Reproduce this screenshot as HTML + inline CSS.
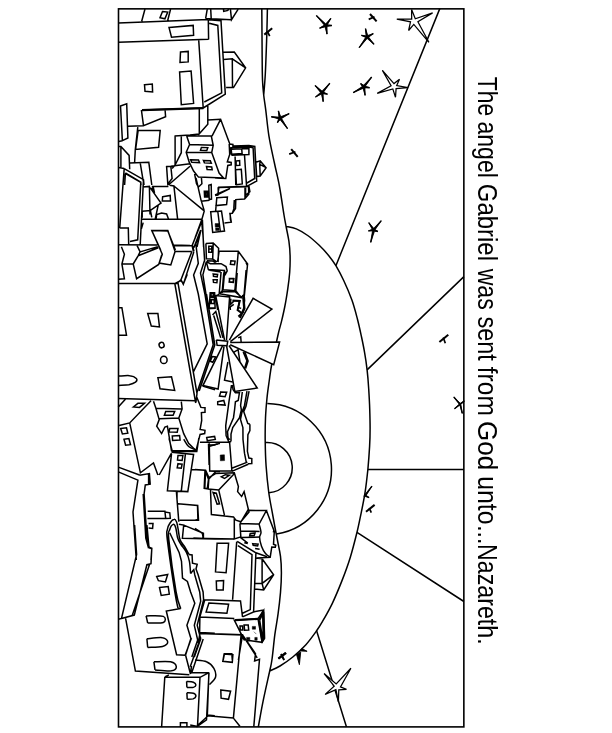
<!DOCTYPE html>
<html>
<head>
<meta charset="utf-8">
<title>The angel Gabriel was sent from God unto...Nazareth.</title>
<style>
html,body{margin:0;padding:0;background:#fff;}
body{width:612px;height:733px;overflow:hidden;position:relative;font-family:"Liberation Sans",sans-serif;}
svg{position:absolute;left:0;top:0;display:block}
.art path,.art rect,.art circle,.art ellipse{fill:none;stroke:#000;stroke-width:1.5;stroke-linejoin:miter;stroke-linecap:butt}
.art .fl{fill:#000;stroke:#000;stroke-width:.5}
.cap text{font-family:"Liberation Sans",sans-serif;font-size:28px;fill:#000}
</style>
</head>
<body>
<svg width="612" height="733" viewBox="0 0 612 733">
<rect x="0" y="0" width="612" height="733" fill="#fff"/>
<g class="art">
<rect x="118.5" y="8.85" width="345.35" height="718.05" style="stroke-width:1.6"/>
<path d="M261.8 8.5C261.9 15.2 262 37.1 262.1 49C262.2 60.9 262.2 72.3 262.5 80C262.8 87.7 263.2 90.1 263.7 95C264.2 99.9 264.8 102.8 265.7 109.6C266.6 116.4 267.5 127.1 268.9 135.8C270.3 144.5 272.4 153.6 274.2 162C275.9 170.4 277.8 177.2 279.4 186C281 194.8 282.9 208.2 284 215C285.1 221.8 285.3 222.1 286.1 226.5C286.9 230.9 288.2 236.3 288.9 241.2C289.6 246.1 290 250.7 290.1 255.9C290.2 261.1 290.1 266.9 289.7 272.3C289.3 277.8 288.6 283.2 287.8 288.6C287 294.1 286.2 299.5 285.1 305C284.1 310.5 282.7 316.4 281.5 321.4C280.3 326.4 279.6 327.8 278 335C276.4 342.2 273.2 356.8 271.7 364.5C270.2 372.2 270 375.4 269.2 381C268.4 386.6 267.6 391.8 267 398C266.4 404.2 265.8 410.8 265.5 418C265.2 425.2 265.1 433 265.2 441C265.3 449 265.5 457.5 266.1 466C266.7 474.5 267.6 483.6 268.7 492C269.8 500.4 271.6 508.5 273 516.5C274.4 524.5 276.1 533.4 277.4 540C278.6 546.6 279.8 550.9 280.5 556.4C281.2 561.9 281.4 566.7 281.4 572.7C281.4 578.7 281.1 585.6 280.5 592.4C279.9 599.2 279.1 606.5 278.1 613.6C277.2 620.7 275.8 627.2 274.8 634.9C273.8 642.6 272.8 654 271.9 660C271 666 271.2 664.1 269.7 671C268.2 677.9 264.9 692.3 263 701.6C261.1 710.9 259.1 722.8 258.3 727
M267.4 8.5C267.3 13.9 267 30.1 266.6 41C266.2 51.9 265.8 65 265.3 74C264.8 83 264 91.5 263.7 95
M286.1 226.5C287.8 226.9 292.7 227.4 296.3 228.9C299.9 230.4 303.9 232.8 307.7 235.5C311.5 238.2 315.6 241.9 319.2 245.3C322.8 248.7 326.2 252.5 329 255.9C331.8 259.3 333.4 261.6 335.9 265.7C338.3 269.8 341 274.8 343.7 280.5C346.4 286.2 349.6 293.7 351.9 300.1C354.2 306.5 355.8 312.9 357.4 319C359 325.1 360.2 330.8 361.4 336.4C362.6 342 363.7 347.1 364.6 352.7C365.6 358.3 366.4 363.9 367.1 369.9C367.8 375.9 368.3 382.3 368.7 388.7C369.1 395.1 369.5 401.8 369.7 408.4C369.9 414.9 370.1 421.7 370.1 428C370.1 434.3 370 439.5 369.6 446.4C369.2 453.3 368.6 461.7 367.9 469.3C367.1 476.9 366.2 485.1 365.1 492.2C364 499.3 362.8 505.1 361.4 511.8C360 518.5 358.9 524.6 357 532.3C355.1 540 352.6 549.9 350.1 558C347.6 566.1 344.9 573.3 341.9 580.9C338.9 588.5 335.4 597 332.1 603.8C328.8 610.6 324.9 617.3 322.3 621.8C319.7 626.3 319.3 627 316.6 630.8C313.9 634.6 309.9 640.3 305.9 644.7C301.9 649.1 297.1 653.5 292.8 657C288.5 660.5 283.9 663.7 280 666C276.1 668.3 271.4 670.2 269.7 671
M118.3 376.1C120.2 376.1 126.7 375.3 129.7 375.7C132.7 376 135.3 377.3 136.3 378.4C137.2 379.5 136.7 381.2 135.5 382.2C134.2 383.2 131.8 384.1 128.9 384.7C126 385.2 120 385.3 118.3 385.5
M183.7 439.2C184.6 440.4 186.5 444.7 188.6 446.5C190.8 448.4 195.5 449.5 196.8 450.1
M178.1 608.6C177.6 605.8 176.6 603.5 174.8 592C173 580.5 168.6 550 167.3 539.6C166.1 529.2 166.9 532.5 167.3 529.8C167.7 527.1 168.5 525.2 169.7 523.5C170.8 521.8 173 519.5 174.2 519.3C175.3 519 175.9 520.4 176.6 522C177.2 523.6 177.5 525.9 178.1 528.8C178.7 531.7 178.9 536.6 180 539.6C181.1 542.6 183 544 184.5 546.5C186 549 188.2 553.1 188.9 554.4
M180.7 608.6C179.9 605.8 178.1 603.5 176.1 592C174.1 580.5 169.9 550 168.8 539.6C167.7 529.2 169 532.3 169.7 529.8C170.4 527.3 172.2 524.7 173.2 524.4C174.2 524.1 175.1 525.7 175.8 527.9C176.5 530.1 176.8 535 177.6 537.7C178.4 540.4 179.2 541.5 180.7 544C182.2 546.5 184.9 549.5 186.4 552.4C187.9 555.3 188.7 557.8 189.4 561.3C190.1 564.8 190.4 571.5 190.6 573.5
M146.1 615.9C149 616 160.4 615.3 163.3 616.4C166.1 617.5 165.9 621.4 163.3 622.5C160.7 623.6 150.3 622.9 147.7 623
M146.9 638.8C149.5 638.6 159 637.1 162.5 637.7C165.9 638.2 167.7 640.6 167.7 642.1C167.7 643.6 165.8 645.6 162.5 646.5C159.1 647.4 150.2 647.3 147.7 647.5
M153.9 661.8C156.7 661.8 166.8 660.9 170.6 661.8C174.3 662.6 176.1 665.2 176.3 666.7C176.4 668.2 174.9 670.2 171.4 670.8C167.8 671.3 157.8 670.1 155 669.9
M186.6 681.4C187.7 681.5 191.9 681.6 193.4 682.2C195 682.8 195.9 684.3 195.9 685.1C195.9 686 194.9 687 193.4 687.4C191.9 687.8 188 687.4 186.9 687.4
M186.9 692.8C188 692.9 191.9 692.8 193.4 693.3C194.9 693.8 195.9 695.2 195.9 696.1C195.8 697 194.5 698.3 193.1 698.9C191.7 699.4 188.2 699.3 187.2 699.3
M195.1 660.1C197 660.4 203.4 660.4 206.5 661.8C209.6 663.1 212.4 665.7 213.9 668.3C215.4 670.9 216.2 674.6 215.5 677.3C214.8 680 210.5 683.4 209.4 684.6
M209.3 445.1C210.1 445 212.4 445.2 214.2 444.9C216 444.6 219 443.5 220 443.3
M259.1 524.1C259.4 525.5 260.9 530.2 261 532.4C261.1 534.6 259.5 535 259.6 537.3C259.6 539.6 260.5 543.5 261.5 546.2C262.5 548.9 264 551.7 265.5 553.5C266.9 555.4 269.4 556.6 270.2 557.2"/>
<path d="M439.8 8.6L335.9 265.7
M367.1 369.9L463.9 276.6
M367.9 469.6L463.9 469.6
M357 532.3L463.9 601.5
M316.6 630.8L346.5 727
M118.3 22.9L208.3 19.6
M118.3 42.2L208.6 39.3
M145 9L141.7 21.3
M170.6 9L167.7 20.5
M162.5 11.5L167.7 12.1L164.9 18.8L160 17.7Z
M169 27.5L193.2 25.4L193.6 35.2L171.5 37.3Z
M180.5 52L188.2 51.4L188.2 61.9L180 62.4Z
M179.6 72L191.1 71L193.6 103.4L181.3 104.7Z
M144.5 84.8L152.3 84.1L152.6 92L145 91.2Z
M142 110L203.4 108
M208.3 19.7L208.6 39.5
M207.3 8.9L205.6 18.7
M210.7 8.9L211.2 18.8
M205.6 18.6L211.2 18.8L231.3 19.7
M230.4 8.9L231.5 19.7L238.2 9.2
M223.5 8.9L223.7 11.4L227.9 10.4L228.4 8.9
M208.8 19.7L221 20.7L225.3 94.1L203.2 108
M209.2 23.2L217.8 25.4L221.7 92.8L204.3 102
M198.7 39.9L203.2 108
M223 52.2L234.3 52L245.6 67.9L233.5 87.6L226.1 87.6
M223.4 59.5L232.3 58.8L232.5 87.6
M232.3 58.8L245.6 67.9
M120.5 106L126.7 103.8L127.9 138L122.4 140.7Z
M118.7 141.4L122.4 140.7
M141.4 110L143.5 125.7L165.6 116.8L165.1 110.3
M127.9 126.3L143.5 125.7
M138.1 130.6L160.2 130.6L158.6 147.2L135.6 149.4Z
M137.8 127.2L135.3 149.6L134.6 162.8
M118.7 146.6L120.9 146.6L129.1 155.4L129.7 169.3
M120.9 146.6L120.9 167.7
M118.7 167.4L124.2 168.6
M129.7 163.1L148.8 162.3L151.8 185
M140.2 162.8L143.2 180.9
M124.2 168.6L143.5 179.7L144 185
M125.1 173.3L140.8 182.4L141 185
M124.2 168.6L123 185
M125.4 173.6L124.6 185
M174.5 136.1L190 134.9
M175.1 136.1L175.1 165
M181.3 135.8L181.3 152.7L175.1 165
M170.8 166.2L190 163.7
M166.6 166.6L170.8 166.2L172.1 178.5L167.8 184Z
M172.1 168.6L175.1 165
M168.4 185L190 166.2
M199.3 108.1L199.3 133.7L207.8 124.3L207.8 105.2
M190 134.9L199.3 133.9
M207.8 119.9L220.6 119.3L230 144.5
M220.6 119.3L212 136.1
M186.7 136.1L211.3 136.1L213.2 145.3L211.7 152.5L216.2 165.1L219.1 173L223.5 177.9L198.5 177.1L193.6 171L189.2 162.2L186.2 152.3L189.6 144.5L186.7 136.1
M189.6 144.5L213.2 145.3
M186.2 152.3L211.7 152.5
M201.4 147.4L207.8 147.6L206.8 150.6L200.5 150.4Z
M190.6 159.7L198.5 160L199.5 162.6L191.8 162.2Z
M203.4 160.4L210.3 160.7L211.3 163.3L204.4 162.9Z
M206.5 166.6L211.7 166.9L212.2 169.8L207.1 169.5Z
M194.6 173.9L196.5 183.8L198.5 187
M201.4 177.5L201.9 183.8L198.5 187
M229.2 143.9L229.7 154.5L227.3 161.8L231.2 162.5L231.2 164.8L227.8 165.5L225.8 178.5L215 178
M229.2 143.9L232.9 144.4L232.9 146.1L248.9 145.6L254.8 146.4L256.7 181L246.9 186.4
M229.7 148.1L232.9 147.4L249.4 147.1L253.1 147.8L254.7 178.5L246.9 183
M231.2 149.3L241.7 148.8L242.1 153.5L231.7 154.3Z
M241.7 148.8L248.9 148.4L248.9 154.5L231.7 155.3
M229.7 148.1L231.7 155.3
M235.1 156.4L235.8 185.1
M244.5 155L246.6 186.7
M236.1 160.9L239.6 160.6L239.8 165.3L236.1 165.5Z
M235.6 169.7L241.3 169.2L242.3 183.9L236.4 184.7Z
M218.9 187.4L246.6 186.7
M255.8 162.3L260.2 160.9L266.1 167.7L260.2 176.1L256.7 176.6Z
M260.2 160.9L259.7 164.3L266.1 167.7
M259.7 164.3L260.2 176.1
M218.9 187.4L217.9 193.8L228.8 188.9
M217.9 193.8L215 194.9
M245 186.9L245 195.7L249.9 191.8L248.9 186.1
M124.2 168.6L119.7 228.1
M125.4 172.9L140.8 182.1L137.7 239.8L130 241.6
M143.5 179.6L140.2 244.9
M119.7 228.1L128.3 228.1L128.7 244.7
M118.7 244.7L157.3 244.9
M142.6 187L149.4 186.4L150 214.6
M142.2 211.3L150.4 210.6L151.8 217.4
M142.2 217.7L142.2 211.3
M150.1 187.6L161 203L150.4 210.3
M151.8 187.6L154.5 192.9L153.1 186.4
M158.2 205.2L155.3 218.7
M151.8 186.4L168.4 186.4
M169.6 185.2L173.9 186L177.6 218.9
M162.6 196.8L170.2 195.4L170.5 201.1L162.3 201.1Z
M156.1 218.7L156.7 214.6L161.6 213L166.6 214L168.4 218.7
M142.2 218.9L201.9 219.2
M173.9 186L204.2 210.9
M151.8 230.6L167.8 230.9L175.4 250
M151.8 230.6L160.7 250
M157.3 246.9L151.8 250
M143.2 222.6L141.4 228.7
M196 177.9L200.9 199.6L204.3 210.9
M208.8 185.3L211.2 184.6L211.5 199.1L209.2 199.6Z
M204.3 191.2L208.3 191.2L208.6 197.1L204.6 197.1Z
M205.6 192.4L207.2 192.4L207.3 195.9L205.7 195.9Z
M201.1 201.3L209.7 200.3
M218.1 187.3L248.5 186.3L248.8 194.2L244.6 199.1L235.8 199.6L235.5 208.4L232.3 213.3L229.9 213.5L231.3 222.2L224.5 222.9
M218.1 187.3L218.4 194.2L229.4 188.8L229.4 187
M215.1 195.6L218.6 195.1
M216.8 197.8L227.4 197.1L226.6 204.5L216.1 205.6Z
M216.1 205.6L215.6 211.3
M245.6 186.6L245.6 195.6L244.6 199.1
M234.3 200L233.8 208.9L232.3 213.3
M230.2 213.8L230.4 219.7L231.3 222.2
M210.7 211.8L221.5 211.1L224.5 231L212.7 232.5Z
M217.8 211.5L220.3 231.5
M204.3 210.9L201.9 219.2
M201.9 219.2L195 237.9
M202.4 219.7L203.6 247
M200.9 230L197 247
M121.4 246.8L124.4 254.2L121.9 264L124.4 278.7L118.5 279.2
M121.9 264L133.2 264
M137.1 245.6L140.1 251.9L157.8 246.6
M140.1 251.9L138.1 255.8L133.2 264L136.6 278.7L158.7 264.5L161.7 255.1
M138.1 255.8L158.3 247.8
M151.8 230.5L167.8 230.5L175.1 251.4L170.8 264.9L159.2 263.1L162.3 254.2Z
M172.7 245L190 245.6
M175.4 251.4L190 251.4
M201.5 222L192.1 245.6L193.4 251.5
M200.6 230.2L193.8 247.7
M192.6 245.6L194 251.5
M193.8 252L183.3 284.4L181 279.8L191.9 251.5
M119 283.6L176.9 283.4L181 279.8
M200.6 230.2L195.8 243.9L198.3 263.3L193.6 275L198.3 294
M201.7 222L203 235.1L204.6 260.3L200.5 273.1L204.9 294
M174 245.6L192.1 245.8
M174.9 251.5L191.9 251.5
M206.3 261.6L202.9 274.8L208.3 308.7L215.7 308.2
M205.9 243.4L213.2 242.9L218.6 248.3L218.1 262.1
M205.9 243.4L206.4 258.8L212.7 259.1L216.9 261.8
M213.2 242.9L212.7 259.1
M206.8 260.8L212.7 261.1L215.7 262.6
M208.8 246.3L211.8 246.3L211.8 252.2L208.8 252.2Z
M209 249L211.8 249
M206.3 261.6L208.3 269.4L224.5 270.4L223.7 273.9
M206.3 261.6L210.3 263.7L221.1 263.7L226 266.5L227.2 270.9L225.5 274.1L224.3 270.4
M208.3 269.9L220.8 271.9
M221.1 271.9L219.1 294.5
M223.7 273.9L222.1 293
M213.2 273.9L217.6 274.3L217.2 276.8L213.5 276.3Z
M213.2 279.7L217.2 279.7L216.9 282.7L213.5 282.4Z
M217.6 261.6L219.1 251.3L238.3 251.3L247.6 264L244.2 296.9
M238.3 251.3L234.8 291.5L241.2 296.9
M222.1 291.8L234.8 291.5
M230.9 260.8L235.1 261.1L234.5 264.7L230.4 264.3Z
M229.6 278.8L233.9 278.8L233.4 282.4L229.2 282Z
M246.1 262.6L247.6 266
M210.8 293.5L213.7 293.8L213.7 297.4L210.8 297.1Z
M211.3 299.4L214.2 299.7L214.2 303.6L211.3 303.3Z
M217.6 310L215.7 296L229.4 296.9L230.4 310
M219.1 294.5L215.7 296
M118.3 283.5L175.2 283.5L180.5 280.7L183.7 283.2L187.3 274.2
M174.9 284L195.7 403
M178 282.9L197 393.5L195.9 402.5
M147.7 313.5L157.9 313.5L159.5 327L151.3 326.1Z
M157.9 377.8L171.5 376.8L174.7 390.4L160 388.7Z
M118.3 307.7L121.9 307.7L126.5 335.2L118.3 335.2
M212.5 315.1L215.8 311.5L223 337.9
M213.7 315.5L220.7 337.9
M224.5 273L223 289.7L235.8 290.7L237.2 273
M223 289.7L219.6 293.7L241.2 297.6L235.8 290.7
M229.4 278.4L233.5 278.4L233.3 282.1L229.6 281.9Z
M246.1 270.1L244.1 294.6L244.6 300.5L243.1 312.3L238.2 316.3
M241.2 297.6L244.1 294.6
M230.9 298.6L230.4 304.5L234.3 300.7L239.7 300.7L238.2 307.4L241.2 308.4
M228.9 307.9L233.8 304.3
M210.2 292.7L214.6 292.7L215.1 307.9L209.2 307.9Z
M210.9 293.5L213.7 293.5L213.7 296.1L210.9 296.1Z
M210.9 299.6L214.2 299.6L214.2 303.5L210.9 303.5Z
M238.2 337.9L240.7 336.9L241.2 342.8
M198.3 294L207.2 343.8L193.5 371.6
M204.9 294L213.2 344.8L197 392.5
M206.5 294L214.8 345L199.2 391
M118.3 398.4L195.2 400.8
M202.6 386.1L215 389.7
M196.8 397.2L200.9 407.4L205 407.7L205 412.3L201.4 412.6L201.7 420.5L200.1 429.5L205 430.3L204.7 433.6L200.1 434.4L196 450.7
M118.3 407L125.6 398.9
M151 400.8L129.7 422.9L119.1 425.4
M129.7 422.9L140.4 472.8L153.5 463L157.9 475
M133.3 407L137.9 403.3L144.5 403.3L139.5 407.4Z
M120.7 428.6L126.5 427.8L127.8 433.2L122.4 433.9Z
M124 439.3L128.9 438.5L130.5 444.7L125.6 445.3Z
M153.5 401.2L155.9 408.2L159.2 419.6L156.7 426.2L161.6 433.6L164.9 427L167.4 426.2L171.5 450.7L196 450.7L188.6 443.4L183.7 433.6L178.8 418L182.1 409L181.3 401.6
M155.9 408.2L181.3 409
M159.2 418.8L178.8 418
M165.7 411.5L174.7 411.5L173.1 415.2L164.4 415.2Z
M169.8 428.6L178 428.6L177.2 432.3L169 431.9Z
M172.3 436L179.6 435.5L180.1 440.1L172.6 440.4Z
M118.3 467.1L139.5 475
M159.2 475L171.5 453.2
M220.8 391.9L226.7 392.2L225.1 396.8L219.5 396.1Z
M217.7 401.8L223.8 400.5L225.1 405.1L217.7 404.5Z
M206.7 437.6L214.6 436.4L215.3 439.4L207.3 440.7Z
M199.9 442.3L229.6 442.3L231.9 471
M208.5 443.7L209.1 465
M209.7 446.2L217.7 443.7
M118.3 471.9L137.9 480.1L133 512L136.3 560
M139.5 475.2L149.4 473.6L150.2 484.2L145.3 485L144.1 494L146.9 538.2L149.4 548L151.8 548.8L151 560
M143.2 494L145.8 538.2L148.6 548.3
M148.6 474.4L148.6 483.9
M171.5 453.9L167.4 490.7L187.8 491.6L193.6 454.4L171.5 452.3
M185.4 453.9L181.3 491.1
M178 455.5L182.9 455.5L182.1 460.5L177.5 460Z
M178 463.7L182.1 464.2L181.3 468.2L177.2 467.8Z
M169 438.4L172.3 451.5L196.8 451.5L198.8 438.4
M191.9 469.5L205 470.3L204.2 488.3L208.6 489.1
M176.4 491.6L178.8 521.8
M178 503.8L197.7 505.5L198.5 520.2L179.6 520.2
M147.7 511.2L164.9 511.2L165.7 518.6L147.4 518.6
M164.9 512L169.8 512.8L170.3 518.2L165.7 518.6
M148.6 523.5L153 523.5L152.6 528.4L148.6 528.1
M183.7 525.1L203.4 533.3L203.4 538.2
M178.8 524.3L183.7 525.1L182.4 538.2L215 539
M209.7 471.1L231.8 471.1
M247.4 462.1L231.8 468.2
M248.2 464.2L231.8 471.4
M195 469.5L205.6 470.3L208.9 477.6L215.5 473.6L234.3 472.7L238.4 486.6L237.6 491.6L241.6 496.5L244.1 491.6L249 512L240.8 521.8
M205.6 470.3L204.8 488.3L208.4 489.1
M208.9 477.6L208.1 489.1L218.7 489.9L234 474
M221.2 476.8L225.3 474.7L229.4 475.2L224.5 478.5Z
M210.5 489.9L211.4 514.5L233.5 516.9L235.9 520.2L240.8 521.8
M218.7 489.9L224.5 515.3
M213 492.4L216.3 493.2L219.5 503.8L217.1 504.2Z
M195 528.4L202.4 533.3L203.2 538.2
M193.4 538.2L235.1 539
M234.3 518.6L234.3 538.9L241.6 536.6
M195 505.5L197.5 505.5L197.9 519.4L195 520.2
M188.9 554.4L192.1 555L192.5 563.2L197.2 564.2L196 569L198.2 575L203.1 592L203.6 599.7L197.2 625.3L200.7 639L194.3 657
M190.6 573.5L193.8 569.6L194.8 575L199.7 592L200.7 601.2L194.3 625.3L197.7 640L191.8 657
M178.1 608.6L180.7 608.6L166.3 611L176.6 654.7L185.5 655.2
M169.7 532.8L179.1 552.4L181.5 561.3L182.5 578L187.4 581.5L190.6 592L194.8 603.2L186.9 625.3L190.9 638.5L185.5 655.2
M134.6 525.1L136.6 554.5L121.5 618.4L118.3 619.2
M146.9 525.1L149 547.2L151.8 548.3L151 563.6L146.9 564.7L134.3 615.1L121.5 618.4
M149.7 564L132.2 615.4
M156.7 576.6L167.7 574.5L165.4 582L158.4 580.7Z
M159.5 587.6L168.2 586.5L169.3 594.2L161.2 595.5Z
M146.1 615.9L147.7 623
M146.9 638.8L147.7 647.5
M217.1 543.3L228.6 543.3L226.1 572.7L215.5 571.9Z
M216.3 580.9L223.6 580.6L223.2 589.9L216.6 589.9Z
M236.7 541.6L232.6 599.7
M237.2 541.3L255.9 552.8L253.6 612L242.5 616.9
M237.9 545.7L252 554.7L250.3 609.6L242.5 613.3
M199.9 616.9L204.8 599.7L240.5 600.9L242.5 616.9
M199.9 616.9L234.3 618.6
M208.9 603L228.6 604.2L226.9 613.3L206.1 612Z
M255.9 558L262.1 558.8L273.6 574.7L263.7 589.9L254.7 589.1
M262.1 558.8L262.1 583.4L263.7 589.9
M254.7 583.4L262.1 583.4L273.6 574.7
M234.3 620.2L258 618.6L262.1 642.3L244.1 639.8Z
M258 618.6L263.7 610.4L264.6 638.2L262.1 642.3
M253.1 612L263.7 610
M240 625.9L242.5 625.9L242.8 630L240.3 630Z
M244.1 625.1L248.2 625.1L248.7 630L244.6 630.3Z
M199.9 616.9L199.6 633.6L242.5 634.9L238.4 660
M242.5 634.9L257.2 657.8
M223.2 660L224.5 653.7L231.8 653.7L232.3 660
M255.9 552.8L267 556.7
M125.6 618.4L135.4 671.1L189.3 674.8
M191.5 638.1L185.3 654.7
M185.6 655.2L190.5 674L191.5 665.8
M203.2 638.9L191.8 672.4
M200.8 637.3L190.2 666.7
M164.8 677L200 677.3L209 672.7L191 672.4
M164.8 677L161.6 727.1
M200 677.3L197.5 726.3L206.5 719.8L209 672.7
M164.8 677L168.9 674.8
M180.4 727.1L180.4 722.7L186.9 722.7L186.9 727.1
M190.2 725L197.5 726.6
M200 632.4L214.8 633.2
M207.3 714.9L214.8 715.7
M153.9 661.8L155 669.9
M186.6 681.4L186.9 687.4
M186.9 692.8L187.2 699.3
M198.3 643L199.9 633.2L242.4 634.8L255.5 653.6L254.6 660.9L259.5 659.3L253.8 726.6
M241.1 634.8L233.4 718.1L239.9 726.3
M207.3 715.7L233.4 718.1
M224.1 654.1L232.9 654.7L232.3 662.3L222.8 661.3Z
M220.8 690L230.6 691.2L228.5 699.3L221.1 698.2Z
M208.9 672.4L207.3 716.5L198.3 724.7
M233.6 352.3L238.1 349.7L239.9 361.7
M243.2 351.9L246.9 360.6L244.5 368.8
M244.9 352.1L248.1 360.9L245.6 368.6
M231.5 385L229 401.4L225.7 425.9L226.1 435.7L229 442.3L231 441.5
M233.1 389.9L235.4 392.8L239.5 392.4L238.2 400.5L235.4 401.8L234.6 409.5L233.5 417.7L227.5 431.6L228 437.8L229.7 439.7
M242.3 392L240.6 405.5L241.4 410L239.5 417.7L232.7 427.6L231 434.1L231 441.5
M247 391.1L244.5 405.5L241.9 412.4L240.5 419.4L242.9 427.6
M249.1 391.1L246 406.3L243.7 411.6L247.8 423.5L249.9 424.3
M233.1 389.9L232.3 385
M209.3 443.3L209.7 471.1L220 471.5
M205.2 470.3L208.5 479.3L215.4 471.9
M208.5 479.3L207.2 489.5
M177 491.6L177 500
M239.9 523.6L247.8 510.3L266.4 510.6L259.1 524.1L239.9 523.6
M266.4 510.6L274.3 531.4L273.5 544.2L275.8 545.2L275.3 547.2L271.8 547L270.2 557.2L256.8 558
M239.9 523.6L240.9 537.8L247.8 543.2
M240.9 530.9L259.6 531.4
M240.9 537.5L259.6 537.1
M250.2 533.4L255.1 532.9L254.2 535.4L249.7 535.6Z
M252.7 543.7L258.1 544.2L257.6 546L253.2 545.4Z
M244.3 542.7L247.8 543.4
M255.1 548.6L259.6 549.3
M272.8 531.4L275.5 532
M212.2 356.4L215.7 356.9L212.7 362.3L210.3 361.3Z
M242.9 427.6L243 439.5L244.5 453.2L246.2 461.9
M249.9 424.2L249.9 430.6L247.9 434.6L247.4 451.3L248.9 458.1L251.8 458.6L251.8 463.5L247.9 463.8"/>
<path class="fl" d="M215.1 223.6l3.9 0l0.2 3.4l-3.9 0.2zM215.6 228l3.4 -0.1l0.1 2.5l-3.4 0.2z"/><path class="fl" d="M220.2 455l4.2 -0.2l0.2 5.8l-4.2 0.2z"/><path class="fl" d="M252.3 626.4h3.2v2.8h-3.2zM253.9 631.7l2.4 2.4M246.6 637.4h3.2v2.4h-3.2zM254.8 637.4h2.4v2.8h-2.4z"/><path d="M316.4 15.6L325.7 23.8L330.8 18.4L327.4 24.7L331.9 25.5L327.1 26.6L327.0 34.1L325.0 26.9L319.6 28.2L324.2 25.1Z" style="fill:#000;stroke:#000;stroke-width:0.7;stroke-linejoin:miter"/><path d="M325.9 25.5L316.4 15.6M325.9 25.5L330.8 18.4M325.9 25.5L331.9 25.5M325.9 25.5L327.0 34.1M325.9 25.5L319.6 28.2" style="stroke-width:1.4"/>
<path d="M370.0 14.0L376.6 21.4" style="stroke-width:2.0"/><path d="M368.7 19.4L374.5 16.8" style="stroke-width:1.7"/>
<path d="M361.4 35.3L366.0 35.7L365.5 28.7L367.8 35.4L373.3 33.6L368.8 37.2L374.0 44.3L367.2 38.6L359.2 47.6L365.5 37.5Z" style="fill:#000;stroke:#000;stroke-width:0.7;stroke-linejoin:miter"/><path d="M367.1 36.9L361.4 35.3M367.1 36.9L365.5 28.7M367.1 36.9L373.3 33.6M367.1 36.9L374.0 44.3M367.1 36.9L359.2 47.6" style="stroke-width:1.4"/>
<path d="M315.1 85.5L322.0 90.9L329.8 83.2L323.7 92.1L327.5 94.2L323.2 93.9L323.2 101.6L321.4 94.1L315.5 97.0L320.4 92.4Z" style="fill:#000;stroke:#000;stroke-width:0.7;stroke-linejoin:miter"/><path d="M322.1 92.6L315.1 85.5M322.1 92.6L329.8 83.2M322.1 92.6L327.5 94.2M322.1 92.6L323.2 101.6M322.1 92.6L315.5 97.0" style="stroke-width:1.4"/>
<path d="M360.6 83.6L363.7 85.1L371.7 77.0L365.4 86.2L369.6 87.7L365.0 88.0L365.1 95.3L363.1 88.4L353.2 92.6L362.1 86.6Z" style="fill:#000;stroke:#000;stroke-width:0.7;stroke-linejoin:miter"/><path d="M363.8 86.8L360.6 83.6M363.8 86.8L371.7 77.0M363.8 86.8L369.6 87.7M363.8 86.8L365.1 95.3M363.8 86.8L353.2 92.6" style="stroke-width:1.4"/>
<path d="M264.3 34.6L272.2 28.3" style="stroke-width:2.0"/><path d="M267.3 31.2L269.7 36.1" style="stroke-width:1.7"/>
<path d="M271.3 116.8L278.8 117.0L278.4 110.9L280.8 116.6L289.2 113.6L281.7 118.6L287.5 128.6L280.1 119.8L277.4 122.7L278.5 118.9Z" style="fill:#000;stroke:#000;stroke-width:0.7;stroke-linejoin:miter"/><path d="M280.1 118.1L271.3 116.8M280.1 118.1L278.4 110.9M280.1 118.1L289.2 113.6M280.1 118.1L287.5 128.6M280.1 118.1L277.4 122.7" style="stroke-width:1.4"/>
<path d="M291.2 149.2L297.7 156.8" style="stroke-width:2.0"/><path d="M289.2 154.1L295.4 151.8" style="stroke-width:1.7"/>
<path d="M368.8 222.7L373.7 228.2L381.2 220.7L375.3 229.5L377.9 231.5L374.5 231.4L370.7 242.3L372.4 231.1L368.4 230.9L372.1 229.2Z" style="fill:#000;stroke:#000;stroke-width:0.7;stroke-linejoin:miter"/><path d="M373.7 229.9L368.8 222.7M373.7 229.9L381.2 220.7M373.7 229.9L377.9 231.5M373.7 229.9L370.7 242.3M373.7 229.9L368.4 230.9" style="stroke-width:1.4"/>
<path d="M439.4 342.0L448.3 334.8" style="stroke-width:2.0"/><path d="M443.3 337.4L445.3 343.3" style="stroke-width:1.7"/>
<path d="M453.8 397.0L460.2 403.3L464.3 400.9L460.9 404.5L462.3 413.4L459.8 405.0L454.5 408.8L459.2 404.1Z" style="fill:#000;stroke:#000;stroke-width:0.7;stroke-linejoin:miter"/><path d="M460.1 404.2L453.8 397.0M460.1 404.2L464.3 400.9M460.1 404.2L462.3 413.4M460.1 404.2L454.5 408.8" style="stroke-width:1.4"/>
<path d="M371.9 486.2L366.2 495.3L369.1 497.6L365.4 496.6L364.1 496.7L364.4 494.9Z" style="fill:#000;stroke:#000;stroke-width:0.7;stroke-linejoin:miter"/><path d="M365.2 495.6L371.9 486.2M365.2 495.6L369.1 497.6M365.2 495.6L364.1 496.7" style="stroke-width:1.4"/>
<path d="M366.0 511.8L374.6 504.9" style="stroke-width:2.0"/><path d="M369.3 508.2L371.3 512.7" style="stroke-width:1.7"/>
<path d="M278.5 658.8L286.2 652.9" style="stroke-width:2.0"/><path d="M281.0 654.0L284.0 659.9" style="stroke-width:1.7"/>
<path d="M278.3 658.5L285.7 652.8" style="stroke-width:2.0"/><path d="M281.3 654.1L284.1 660.1" style="stroke-width:1.7"/>
<path d="M411.6 9.6L415.3 18.8L432.6 12.9L417.9 21.8L428.9 42.3L413.8 24.4L408.6 30.5L410.5 21.8L396.8 19.1L411.7 19.1Z" style="fill:#fff;stroke:#000;stroke-width:1.25;stroke-linejoin:miter;stroke-miterlimit:2.5"/>
<path d="M382.4 70.4L394.0 83.6L399.5 79.3L396.7 85.5L408.0 87.7L396.1 88.6L395.5 97.3L392.8 88.9L377.2 93.4L391.1 85.8Z" style="fill:#fff;stroke:#000;stroke-width:1.25;stroke-linejoin:miter;stroke-miterlimit:2.5"/>
<path d="M324.1 673.5L336.2 684.0L350.9 668.2L340.5 686.9L346.5 689.3L338.8 689.9L338.4 701.8L335.9 689.6L325.1 694.4L334.2 686.2Z" style="fill:#fff;stroke:#000;stroke-width:1.25;stroke-linejoin:miter;stroke-miterlimit:2.5"/>
<path d="M296.5 654.4L299.4 664.7L300.7 652.1Z" style="fill:#000;stroke:#000;stroke-width:0.9;stroke-linejoin:miter;stroke-miterlimit:2.5"/>
<path d="M300.1 650.9L307.1 651.3L301.8 648.5Z" style="fill:#000;stroke:#000;stroke-width:0.9;stroke-linejoin:miter;stroke-miterlimit:2.5"/>
<path d="M227.9 362.0L224.5 380.2L232.8 382.0" style="fill:#fff"/><path d="M224.5 340.0L215.7 295.6L229.6 297.1L226.5 340.0" style="fill:#fff"/><path d="M229.4 340.2L253.1 298.3L271.9 309.1L230.4 341.6" style="fill:#fff"/><path d="M230.2 342.6L279.6 342.1L273.7 364.6L230.2 344.8" style="fill:#fff"/><path d="M229.0 345.5L257.2 388.0L234.8 391.5L226.6 346.0" style="fill:#fff"/><path d="M222.5 345.8L202.9 385.6L218.1 389.0L224.0 346.3" style="fill:#fff"/><path d="M216.3 340.0L227.7 341.2L227.0 345.8L217.1 345.2L216.3 340.0" style="fill:#fff"/><path d="M259.2 620.2L263.1 612.0L263.7 637.9L262.4 640.2L259.2 620.2" style="stroke-width:2.4"/><path d="M235.1 620.2L258.0 618.9" style="stroke-width:2.2"/><ellipse cx="161.6" cy="345.1" rx="2.5" ry="2.7" transform="rotate(-20 161.6 345.1)"/><ellipse cx="163.8" cy="359.9" rx="3.3" ry="3.6"/><path d="M267.3 403.6A65.7 65.7 0 0 1 276.5 534.1M265.2 442.5A25.2 25.2 0 0 1 268.9 492.8"/><path d="M142 110.2L203.4 108.2" style="stroke-width:2.3"/><path d="M243.2 294.8L244.3 308.5L239.7 317.9" style="stroke-width:2.4"/><path d="M232.4 300.4L239.7 301.0L237.6 310.0L241.9 313.2" style="stroke-width:2.0"/>
</g>
<g class="cap" transform="translate(477.7,0) rotate(90)" style="filter:grayscale(1)">
<text y="0"><tspan x="76.8" textLength="39.3" lengthAdjust="spacingAndGlyphs">The</tspan> <tspan x="121.4" textLength="56.5" lengthAdjust="spacingAndGlyphs">angel</tspan> <tspan x="183.8" textLength="77.2" lengthAdjust="spacingAndGlyphs">Gabriel</tspan> <tspan x="268.7" textLength="41.0" lengthAdjust="spacingAndGlyphs">was</tspan> <tspan x="316.4" textLength="44.4" lengthAdjust="spacingAndGlyphs">sent</tspan> <tspan x="366.8" textLength="49.1" lengthAdjust="spacingAndGlyphs">from</tspan> <tspan x="421.0" textLength="49.2" lengthAdjust="spacingAndGlyphs">God</tspan> <tspan x="476.2" textLength="48.4" lengthAdjust="spacingAndGlyphs">unto</tspan><tspan x="525.2" textLength="19.2" lengthAdjust="spacingAndGlyphs">...</tspan><tspan x="544.0" textLength="100.7" lengthAdjust="spacingAndGlyphs">Nazareth.</tspan></text>
</g>
</svg>
</body>
</html>
